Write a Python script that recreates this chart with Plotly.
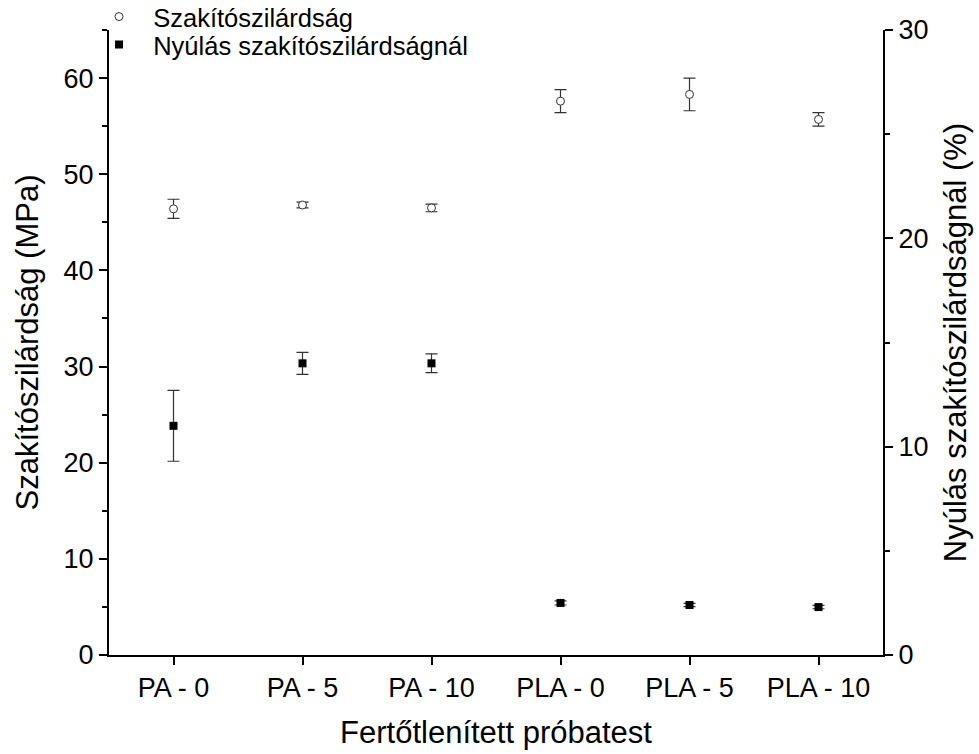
import plotly.graph_objects as go

categories = ["PA - 0", "PA - 5", "PA - 10", "PLA - 0", "PLA - 5", "PLA - 10"]
strength = [46.4, 46.8, 46.5, 57.6, 58.3, 55.7]
strength_err = [1.0, 0.3, 0.4, 1.2, 1.7, 0.7]
elongation = [11.0, 14.0, 14.0, 2.5, 2.4, 2.3]
elongation_err = [1.7, 0.53, 0.45, 0.1, 0.08, 0.08]

FONT = "Liberation Sans, Arial, sans-serif"
NB = "\u00a0\u00a0"

fig = go.Figure()
fig.add_trace(go.Scatter(
    x=categories, y=strength, mode="markers", name=NB + "Szakítószilárdság",
    marker=dict(symbol="circle", size=8, color="white", line=dict(color="#333", width=1)),
    error_y=dict(type="data", array=strength_err, color="#333", thickness=1.2, width=6),
    yaxis="y", legend="legend",
))
fig.add_trace(go.Scatter(
    x=categories, y=elongation, mode="markers", name=NB + "Nyúlás szakítószilárdságnál",
    marker=dict(symbol="square", size=8, color="black"),
    error_y=dict(type="data", array=elongation_err, color="#333", thickness=1.2, width=6),
    yaxis="y2", legend="legend2",
))

axis_common = dict(
    showline=True, linecolor="black", linewidth=2, ticks="outside", ticklen=8,
    tickwidth=2, tickcolor="black", showgrid=False, zeroline=False,
    tickfont=dict(family=FONT, size=27, color="black"),
)
TITLE_FONT = dict(family=FONT, size=31, color="black")
leg_common = dict(xanchor="left", yanchor="middle",
                  font=dict(family=FONT, size=25.5, color="black"),
                  bgcolor="rgba(0,0,0,0)", borderwidth=0)

fig.update_layout(
    width=979, height=754,
    margin=dict(l=109, r=96, t=30, b=99, autoexpand=False),
    paper_bgcolor="white", plot_bgcolor="white",
    showlegend=True,
    legend=dict(x=-0.0129, y=1.0208, **leg_common),
    legend2=dict(x=-0.0129, y=0.976, **leg_common),
    xaxis=dict(
        **axis_common, type="category", range=[-0.5, 5.5],
        title=dict(text="Fertőtlenített próbatest", font=TITLE_FONT, standoff=19),
    ),
    yaxis=dict(
        **axis_common, range=[0, 65], dtick=10, tick0=0,
        minor=dict(dtick=5, ticks="outside", ticklen=5, tickwidth=2, tickcolor="black"),
        title=dict(text="Szakítószilárdság (MPa)", font=TITLE_FONT, standoff=16),
    ),
    yaxis2=dict(
        **axis_common, range=[0, 30], dtick=10, tick0=0, overlaying="y", side="right",
        minor=dict(dtick=5, ticks="outside", ticklen=5, tickwidth=2, tickcolor="black"),
        title=dict(text="Nyúlás szakítószilárdságnál (%)", font=TITLE_FONT, standoff=17),
    ),
)

fig.write_html("out.html")
